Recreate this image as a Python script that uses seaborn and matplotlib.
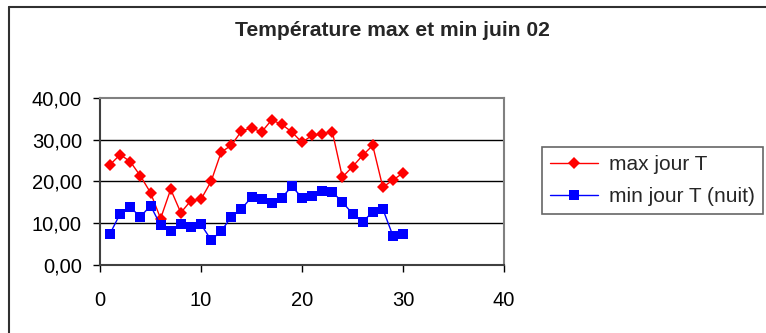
import matplotlib
matplotlib.use("Agg")
import matplotlib.pyplot as plt
import seaborn as sns
import pandas as pd
from matplotlib.lines import Line2D
from matplotlib.ticker import FuncFormatter

days = list(range(1, 31))
tmax = [24.0, 26.4, 24.7, 21.3, 17.3, 11.1, 18.1, 12.5, 15.4, 15.7,
        20.0, 27.0, 28.6, 32.0, 32.8, 31.8, 34.7, 33.6, 31.8, 29.3,
        31.0, 31.3, 31.9, 21.0, 23.5, 26.2, 28.6, 18.6, 20.3, 22.0]
tmin = [7.5, 12.3, 13.8, 11.5, 14.2, 9.5, 8.1, 9.7, 9.2, 9.7,
        6.0, 8.1, 11.5, 13.4, 16.2, 15.7, 14.8, 16.1, 18.8, 16.1,
        16.4, 17.7, 17.5, 15.0, 12.3, 10.3, 12.7, 13.4, 7.0, 7.3]
series_names = ["max jour T", "min jour T (nuit)"]
title = "Température max et min juin 02"
xticks = [0, 10, 20, 30, 40]
yticks = [0, 10, 20, 30, 40]

df = pd.DataFrame({"jour": days, "max": tmax, "min": tmin})

sns.set_style("white")
plt.rcParams["font.family"] = ["Liberation Sans", "DejaVu Sans"]

fig = plt.figure(figsize=(7.66, 3.33), dpi=100)
ax = fig.add_axes([100 / 766, 68 / 333, 404 / 766, 167.3 / 333])

sns.lineplot(data=df, x="jour", y="max", ax=ax, color="#FF0000", marker="D",
             markersize=6.3, markeredgewidth=0, linewidth=1.0, label=series_names[0])
sns.lineplot(data=df, x="jour", y="min", ax=ax, color="#0000FF", marker="s",
             markersize=7.2, markeredgewidth=0, linewidth=1.0, label=series_names[1])

ax.set_xlim(0, 40)
ax.set_ylim(0, 40)
ax.set_xticks(xticks)
ax.set_yticks(yticks)
ax.yaxis.set_major_formatter(FuncFormatter(lambda v, p: f"{v:.2f}".replace(".", ",")))
ax.set_xlabel("")
ax.set_ylabel("")
ax.tick_params(axis="both", labelsize=14.5, colors="black", direction="out",
               length=5, width=1, bottom=True, left=True)
ax.tick_params(axis="x", pad=14)
ax.tick_params(axis="y", pad=8)
for yv in [10, 20, 30]:
    ax.axhline(yv, color="black", linewidth=1.0, zorder=0)
for side in ["top", "right"]:
    ax.spines[side].set_color("#808080")
    ax.spines[side].set_linewidth(1.5)
for side in ["left", "bottom"]:
    ax.spines[side].set_color("#404040")
    ax.spines[side].set_linewidth(1.5)
ax.grid(False)

fig.text(392 / 766, 1 - 31 / 333, title, ha="center", va="center",
         fontsize=15.2, fontweight="bold")

ax.get_legend().remove()
handles = [Line2D([], [], color="#FF0000", marker="D", markersize=6.3, markeredgewidth=0, linewidth=1.0),
           Line2D([], [], color="#0000FF", marker="s", markersize=7.2, markeredgewidth=0, linewidth=1.0)]
leg = fig.legend(handles, series_names, loc="upper left",
                 bbox_to_anchor=(542 / 766, 1 - 147 / 333), fontsize=15,
                 frameon=True, fancybox=False, shadow=False, handlelength=2.3,
                 handletextpad=0.5, labelspacing=0.6, borderpad=0.4,
                 borderaxespad=0, numpoints=1)
leg.get_frame().set_edgecolor("#404040")
leg.get_frame().set_linewidth(1.2)

fig.add_artist(Line2D([8.5 / 766, 8.5 / 766], [0, 1 - 6.5 / 333], color="#303030",
                      linewidth=1.5, transform=fig.transFigure))
fig.add_artist(Line2D([8.5 / 766, 1], [1 - 6.5 / 333, 1 - 6.5 / 333], color="#303030",
                      linewidth=1.5, transform=fig.transFigure))

fig.savefig("out.png", dpi=100)
